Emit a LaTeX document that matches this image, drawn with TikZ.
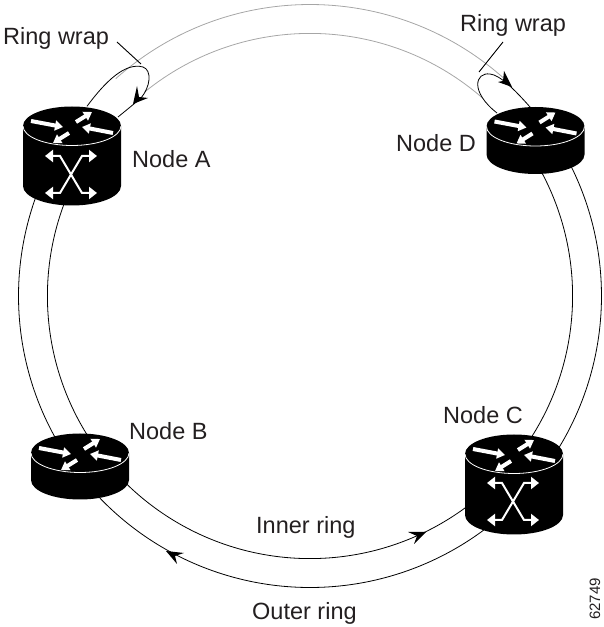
\documentclass[tikz,border=0pt]{standalone}
\usepackage{fontspec}
\setmainfont{Liberation Sans}
\usetikzlibrary{arrows.meta}
\definecolor{inkc}{HTML}{231F20}
\tikzset{
  x=1pt,y=1pt,
  ringline/.style={line width=0.8pt,black},
  ringgray/.style={line width=0.8pt,black!35},
  leader/.style={line width=0.9pt,black},
  arrowhead/.style={fill=black,draw=none},
  lab/.style={font=\fontsize{23.5}{23.5}\selectfont,text=inkc,inner sep=0pt,anchor=base west},
  anchorbox/.style={minimum width=98pt,minimum height=39pt,inner sep=0pt,draw=none},
  toparrow/.style={draw=white,line width=4pt,-{Triangle[length=8pt,width=10pt,fill=white]}},
  xarrow/.style={draw=white,line width=2pt,{Triangle[length=8pt,width=12pt,fill=white]}-{Triangle[length=8pt,width=12pt,fill=white]},line join=miter},
  routerbody/.pic={
    \fill[black] (-49,0) -- (-49,-#1) arc[start angle=180,end angle=360,x radius=49,y radius=19.5] -- (49,0) arc[start angle=0,end angle=180,x radius=49,y radius=19.5] -- cycle;
    \draw[white,line width=0.8pt] (-49,0) arc[start angle=180,end angle=360,x radius=49,y radius=19.5];
    \draw[toparrow] (-41,5) -- (-9,-1);
    \draw[toparrow] (4,4) -- (20,14);
    \draw[toparrow] (41,-7) -- (10,-1);
    \draw[toparrow] (-3,-7) -- (-19,-17);
  },
  crossmark/.pic={
    \draw[xarrow] (-26,19) -- (-11,19) -- (11,-18) -- (26,-18);
    \draw[xarrow] (26,19) -- (11,19) -- (-11,-18) -- (-26,-18);
  }
}
\begin{document}
\begin{tikzpicture}
\useasboundingbox (0,0) rectangle (603,627);
\coordinate (ringc) at (310,331);
% routers as named nodes
\node[anchorbox] (nodeA) at (72,501) {};
\node[anchorbox] (nodeD) at (535.5,500.5) {};
\node[anchorbox] (nodeB) at (80,174) {};
\node[anchorbox] (nodeC) at (514,173) {};
% rings
\draw[ringline] (ringc) ++(145:291.5) arc[start angle=145,end angle=214,radius=291.5];
\draw[ringline] (ringc) ++(145:262.6) arc[start angle=145,end angle=214,radius=262.6];
\draw[ringline] (ringc) ++(214:291.5) arc[start angle=214,end angle=320,radius=291.5];
\draw[ringline] (ringc) ++(214:262.6) arc[start angle=214,end angle=320,radius=262.6];
\draw[ringline] (ringc) ++(-40:291.5) arc[start angle=-40,end angle=35,radius=291.5];
\draw[ringline] (ringc) ++(-40:262.6) arc[start angle=-40,end angle=35,radius=262.6];
\draw[ringgray] (ringc) ++(131.8:291.5) arc[start angle=131.8,end angle=48.5,radius=291.5];
\draw[ringgray] (ringc) ++(129:262.6) arc[start angle=129,end angle=48.9,radius=262.6];
% wraps
\draw[ringline] (nodeA.north) ++(15,0) .. controls (105,545) and (125,565) .. (143,560) .. controls (152,557) and (151,540) .. (140,528) -- (118,510);
\draw[ringline] (nodeD.north) ++(-6,0) -- (530,520) .. controls (515,537) and (500,552) .. (490,553) .. controls (475,555) and (470,535) .. (497,514);
% arrowheads
\path[arrowhead] (133,523) -- (137,541) -- (139,530) -- (148,529) -- cycle;
\path[arrowhead] (512,540) -- (504,556) -- (503,546) -- (498,545) -- cycle;
\path[arrowhead] (166,76) -- (184,74) -- (175,71) -- (177,63) -- cycle;
\path[arrowhead] (426,95) -- (408,95) -- (417,91) -- (414,83) -- cycle;
% routers
\pic at (nodeA) {routerbody=60};
\pic at (71,452) {crossmark};
\pic at (nodeD) {routerbody=28};
\pic at (nodeB) {routerbody=27};
\pic at (nodeC) {routerbody=61};
\pic at (513,125) {crossmark};
% labels
\node[lab] (wrapL) at (3,582) {Ring wrap};
\node[lab] (wrapR) at (460,595) {Ring wrap};
\node[lab] at (132,459) {Node A};
\node[lab] at (396,475) {Node D};
\node[lab] at (129,187) {Node B};
\node[lab] at (443,203) {Node C};
\node[lab] at (256,93) {Inner ring};
\node[lab] at (252,8) {Outer ring};
\node[font=\fontsize{15}{15}\selectfont,text=inkc,inner sep=0pt,anchor=base west,rotate=90] at (600,7) {62749};
\coordinate (wl) at (117,585);
\coordinate (wle) at (141,563);
\coordinate (wr) at (503,585);
\coordinate (wre) at (479,555);
\draw[leader] (wl) -- (wle);
\draw[leader] (wr) -- (wre);
\end{tikzpicture}
\end{document}
